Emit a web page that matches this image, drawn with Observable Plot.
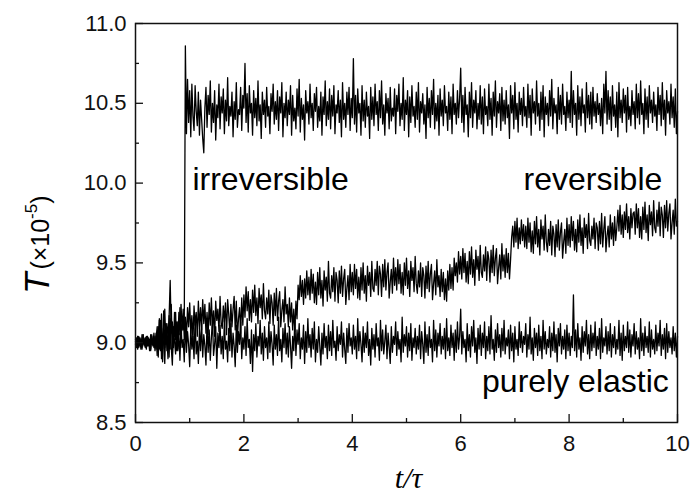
<!DOCTYPE html>
<html><head><meta charset="utf-8">
<script src="https://cdn.jsdelivr.net/npm/d3@7"></script>
<script src="https://cdn.jsdelivr.net/npm/@observablehq/plot@0.6"></script>
<style>body{margin:0;background:#fff}#chart svg{display:block}</style>
</head><body><div id="chart"></div>
<script>
// sampling interval of the read-off traces (t/τ)
const tStep = 0.02;

// purely elastic trace (T ×10^-5)
const elastic = [
9.02,8.98,9.04,8.97,9.03,9.00,8.96,9.05,8.99,9.03,8.97,9.04,8.98,9.02,8.96,9.05,8.99,9.03,8.95,9.06,
8.92,9.10,8.96,9.14,8.90,9.05,8.99,8.87,9.12,8.95,9.08,8.91,9.15,8.97,8.86,9.09,9.01,8.93,9.13,8.95,
9.06,8.89,9.11,8.97,9.02,8.88,9.14,8.94,9.07,8.99,8.85,9.10,8.96,9.04,8.90,9.16,8.93,9.01,8.87,9.09,
8.95,9.12,8.91,9.05,8.98,8.86,9.13,8.94,9.08,8.89,9.03,9.15,8.92,8.99,9.10,8.84,9.06,8.97,9.11,8.93,
9.04,8.90,9.14,8.96,9.01,8.88,9.09,8.95,9.12,8.91,9.06,8.98,8.85,9.11,8.94,9.07,8.99,9.13,8.90,9.03,
8.96,9.10,8.92,9.15,8.97,9.02,8.87,9.08,8.82,9.05,8.95,9.12,8.91,9.04,8.98,9.14,8.93,9.06,8.89,9.10,
8.97,9.03,8.90,9.13,8.94,9.07,8.99,8.86,9.11,8.96,9.05,8.92,9.16,8.95,9.02,8.88,9.09,8.97,9.12,8.93,
9.06,8.91,9.10,8.98,8.84,9.04,8.95,9.14,8.92,9.08,8.99,9.12,8.90,9.03,8.96,9.11,8.87,9.07,8.94,9.15,
8.97,9.05,8.91,9.09,8.96,9.13,8.88,9.02,8.94,9.10,8.98,8.86,9.06,8.93,9.12,8.97,9.04,8.90,9.11,8.95,
9.07,8.92,9.14,8.97,9.01,8.89,9.10,8.95,9.05,8.99,9.13,8.91,9.06,8.96,8.87,9.09,8.94,9.12,8.98,9.03,
8.93,9.11,8.96,9.04,8.90,9.15,8.95,9.07,8.99,8.88,9.10,8.94,9.06,8.97,9.13,8.92,9.02,8.86,9.09,8.96,
9.05,8.91,9.12,8.98,9.03,8.89,9.14,8.95,9.08,8.93,9.01,9.11,8.90,9.06,8.97,8.87,9.10,8.94,9.04,8.99,
9.13,8.92,9.07,8.96,9.02,8.88,9.16,8.94,9.05,8.98,9.10,8.91,9.06,8.95,9.12,8.89,9.03,8.97,9.09,8.93,
9.04,8.96,9.11,8.90,9.07,8.99,8.87,9.13,8.94,9.05,8.92,9.10,8.97,9.02,8.88,9.14,8.95,9.08,8.91,9.06,
8.98,9.12,8.93,9.04,8.96,9.09,8.90,9.15,8.95,9.03,8.92,9.11,8.97,9.06,8.89,9.08,8.94,9.13,8.96,9.04,
9.21,8.93,9.07,8.97,9.02,8.88,9.12,8.95,9.05,8.91,9.10,8.98,9.14,8.94,9.03,8.87,9.09,8.96,9.11,8.92,
9.06,8.97,9.13,8.90,9.04,8.95,9.10,8.93,9.17,8.96,9.02,8.89,9.08,8.94,9.12,8.97,9.05,8.91,9.09,8.95,
9.14,8.93,9.03,8.98,9.08,8.90,9.11,8.95,9.06,8.88,9.10,8.96,9.02,8.92,9.13,8.97,9.07,8.94,9.04,8.99,
9.12,8.91,9.05,8.96,9.16,8.93,9.03,8.89,9.09,8.97,9.06,8.92,9.11,8.95,9.04,8.90,9.14,8.96,9.07,8.93,
9.02,8.97,9.10,8.91,9.06,8.95,9.13,8.94,9.05,8.88,9.09,8.98,9.12,8.93,9.04,8.96,9.08,8.90,9.11,8.95,
9.06,8.92,9.04,8.97,9.30,8.95,9.08,8.91,9.12,8.96,9.03,8.89,9.10,8.94,9.07,8.98,9.14,8.93,9.05,8.90,
9.11,8.95,9.06,8.97,9.13,8.92,9.04,8.96,9.09,8.90,9.15,8.94,9.03,8.98,9.10,8.93,9.07,8.95,9.12,8.91,
9.05,8.97,9.10,8.93,9.02,8.96,9.14,8.92,9.06,8.89,9.11,8.95,9.04,8.97,9.13,8.94,9.08,8.91,9.05,8.98,
9.12,8.93,9.07,8.96,9.03,8.90,9.15,8.95,9.06,8.92,9.10,8.97,9.04,8.94,9.13,8.91,9.08,8.96,9.02,8.93,
9.11,8.95,9.06,8.98,9.14,8.92,9.05,8.96,9.09,8.90,9.12,8.94,9.07,8.97,9.03,8.93,9.10,8.95,9.06,8.91,
9.04];

// reversible trace
const reversible = [
8.99,9.03,8.96,9.04,8.98,9.02,8.97,9.05,8.98,9.03,8.96,9.04,8.99,9.02,8.95,9.04,8.98,9.06,8.97,9.03,
9.10,8.94,9.14,9.00,9.18,8.96,9.08,9.21,8.99,9.12,9.04,9.16,9.39,9.06,9.13,8.97,9.19,9.02,9.11,8.96,
9.19,9.05,9.24,9.08,9.21,9.02,9.16,9.03,9.22,9.10,9.25,9.06,9.17,9.01,9.23,9.11,9.19,9.04,9.26,9.09,
9.22,9.08,9.27,9.12,9.24,9.06,9.19,9.05,9.25,9.11,9.28,9.09,9.20,9.04,9.26,9.14,9.21,9.07,9.29,9.12,
9.09,9.23,9.13,9.25,9.05,9.27,9.18,9.06,9.24,9.10,9.21,9.29,9.08,9.26,9.03,9.15,9.22,9.06,9.28,9.11,
9.30,9.16,9.35,9.20,9.32,9.14,9.27,9.13,9.33,9.19,9.36,9.17,9.28,9.12,9.34,9.22,9.30,9.15,9.37,9.20,
9.15,9.28,9.18,9.33,9.12,9.30,9.25,9.11,9.31,9.17,9.34,9.14,9.26,9.32,9.10,9.20,9.27,9.13,9.35,9.18,
9.24,9.10,9.28,9.13,9.25,9.08,9.21,9.07,9.26,9.15,9.36,9.27,9.42,9.29,9.39,9.24,9.40,9.28,9.45,9.30,
9.41,9.27,9.46,9.31,9.43,9.25,9.38,9.24,9.44,9.30,9.47,9.28,9.39,9.23,9.45,9.33,9.41,9.26,9.51,9.31,
9.28,9.42,9.32,9.47,9.26,9.44,9.39,9.25,9.45,9.31,9.48,9.29,9.40,9.46,9.24,9.34,9.42,9.27,9.49,9.32,
9.44,9.30,9.49,9.34,9.46,9.28,9.41,9.27,9.47,9.33,9.50,9.31,9.42,9.26,9.48,9.36,9.44,9.29,9.51,9.34,
9.32,9.46,9.36,9.51,9.30,9.48,9.43,9.29,9.49,9.35,9.52,9.33,9.44,9.50,9.28,9.38,9.46,9.31,9.53,9.36,
9.47,9.33,9.52,9.37,9.49,9.31,9.44,9.30,9.50,9.36,9.53,9.34,9.45,9.29,9.51,9.39,9.47,9.32,9.54,9.37,
9.31,9.45,9.35,9.50,9.29,9.47,9.42,9.28,9.48,9.34,9.51,9.32,9.43,9.49,9.27,9.37,9.45,9.30,9.52,9.35,
9.42,9.29,9.46,9.32,9.44,9.27,9.40,9.26,9.45,9.33,9.49,9.34,9.47,9.33,9.53,9.42,9.50,9.38,9.57,9.43,
9.54,9.40,9.59,9.44,9.56,9.38,9.51,9.37,9.57,9.43,9.60,9.41,9.52,9.36,9.58,9.46,9.54,9.39,9.61,9.44,
9.41,9.55,9.45,9.60,9.39,9.57,9.52,9.38,9.58,9.44,9.61,9.42,9.53,9.59,9.37,9.47,9.55,9.40,9.62,9.45,
9.55,9.41,9.59,9.44,9.56,9.40,9.52,9.66,9.73,9.60,9.76,9.63,9.78,9.59,9.72,9.62,9.77,9.64,9.74,9.60,
9.73,9.59,9.78,9.63,9.75,9.57,9.70,9.56,9.76,9.62,9.79,9.60,9.71,9.55,9.77,9.65,9.73,9.58,9.80,9.63,
9.57,9.71,9.61,9.76,9.55,9.73,9.68,9.54,9.74,9.60,9.77,9.58,9.69,9.75,9.53,9.63,9.71,9.56,9.78,9.61,
9.74,9.60,9.79,9.64,9.76,9.58,9.71,9.57,9.77,9.63,9.80,9.61,9.72,9.56,9.78,9.66,9.74,9.59,9.81,9.64,
9.61,9.73,9.65,9.78,9.59,9.75,9.72,9.58,9.76,9.62,9.81,9.60,9.71,9.79,9.57,9.67,9.73,9.60,9.80,9.65,
9.75,9.61,9.79,9.64,9.72,9.83,9.70,9.86,9.68,9.80,9.66,9.82,9.71,9.87,9.69,9.79,9.65,9.84,9.72,9.81,
9.82,9.68,9.87,9.72,9.84,9.66,9.79,9.65,9.85,9.71,9.88,9.69,9.80,9.64,9.86,9.74,9.82,9.67,9.89,9.72,
9.69,9.83,9.73,9.88,9.67,9.85,9.80,9.66,9.86,9.72,9.89,9.70,9.81,9.87,9.65,9.75,9.83,9.68,9.90,9.73,
9.76];

// irreversible trace
const irreversible = [
9.01,8.97,9.04,8.98,9.03,8.96,9.05,8.99,9.02,8.97,9.04,8.98,9.03,8.95,9.05,8.99,9.02,8.97,9.04,8.96,
9.06,8.91,9.15,8.95,9.09,8.88,9.20,8.97,9.12,9.02,8.90,9.17,8.96,9.24,8.93,9.10,9.04,9.19,8.95,9.13,
9.05,9.22,9.00,9.16,9.08,9.12,10.86,10.31,10.65,10.38,10.58,10.29,10.62,10.42,10.33,10.61,10.45,10.36,10.57,10.30,
10.52,10.40,10.28,10.19,10.47,10.60,10.35,10.55,10.43,10.64,10.32,10.50,10.38,10.58,10.27,10.49,10.41,10.62,10.34,10.54,
10.44,10.59,10.31,10.52,10.39,10.66,10.36,10.48,10.42,10.57,10.29,10.51,10.40,10.63,10.35,10.46,10.43,10.60,10.33,10.55,
10.47,10.75,10.38,10.56,10.32,10.61,10.44,10.50,10.30,10.58,10.41,10.53,10.36,10.64,10.39,10.49,10.28,10.57,10.43,10.52,
10.35,10.60,10.42,10.48,10.31,10.56,10.45,10.62,10.37,10.51,10.40,10.58,10.33,10.54,10.44,10.63,10.29,10.50,10.41,10.57,
10.36,10.52,10.43,10.61,10.30,10.55,10.39,10.47,10.34,10.59,10.42,10.65,10.32,10.53,10.40,10.49,10.27,10.58,10.44,10.51,
10.37,10.62,10.41,10.50,10.33,10.56,10.45,10.60,10.35,10.48,10.39,10.57,10.30,10.54,10.43,10.64,10.36,10.51,10.40,10.59,
10.34,10.55,10.42,10.61,10.31,10.49,10.44,10.58,10.38,10.52,10.29,10.63,10.40,10.50,10.35,10.57,10.43,10.60,10.33,10.53,
10.41,10.78,10.37,10.55,10.32,10.59,10.44,10.50,10.30,10.61,10.39,10.52,10.35,10.57,10.42,10.48,10.28,10.60,10.40,10.54,
10.36,10.62,10.43,10.51,10.33,10.58,10.41,10.64,10.37,10.49,10.30,10.56,10.44,10.53,10.34,10.60,10.39,10.47,10.42,10.59,
10.31,10.55,10.45,10.62,10.36,10.50,10.40,10.66,10.33,10.52,10.43,10.58,10.29,10.54,10.38,10.61,10.42,10.48,10.35,10.57,
10.40,10.63,10.32,10.51,10.44,10.56,10.37,10.49,10.28,10.60,10.41,10.53,10.35,10.58,10.43,10.65,10.34,10.50,10.39,10.55,
10.30,10.59,10.42,10.52,10.36,10.61,10.44,10.48,10.33,10.57,10.40,10.54,10.31,10.62,10.43,10.50,10.37,10.58,10.41,10.53,
10.72,10.38,10.55,10.32,10.60,10.43,10.49,10.29,10.57,10.41,10.63,10.35,10.52,10.44,10.58,10.34,10.50,10.40,10.61,10.37,
10.54,10.31,10.59,10.43,10.48,10.36,10.62,10.40,10.53,10.30,10.57,10.42,10.64,10.35,10.51,10.44,10.56,10.33,10.60,10.39,
10.52,10.37,10.58,10.41,10.49,10.28,10.61,10.44,10.55,10.34,10.63,10.40,10.50,10.32,10.57,10.43,10.53,10.36,10.60,10.42,
10.48,10.35,10.62,10.41,10.55,10.30,10.59,10.44,10.51,10.37,10.64,10.42,10.50,10.33,10.57,10.40,10.61,10.29,10.54,10.43,
10.50,10.36,10.58,10.42,10.65,10.34,10.53,10.44,10.49,10.31,10.60,10.40,10.55,10.37,10.62,10.43,10.48,10.33,10.57,10.41,
10.52,10.38,10.70,10.35,10.58,10.43,10.50,10.30,10.61,10.40,10.54,10.36,10.59,10.44,10.49,10.32,10.63,10.41,10.55,10.37,
10.57,10.34,10.60,10.42,10.51,10.38,10.56,10.43,10.50,10.36,10.53,10.31,10.62,10.44,10.70,10.37,10.58,10.40,10.54,10.33,
10.61,10.42,10.49,10.35,10.57,10.29,10.63,10.41,10.52,10.38,10.59,10.44,10.55,10.32,10.60,10.40,10.48,10.36,10.58,10.43,
10.51,10.34,10.62,10.41,10.56,10.37,10.64,10.43,10.50,10.31,10.59,10.40,10.54,10.35,10.61,10.44,10.52,10.38,10.57,10.42,
10.49,10.33,10.60,10.43,10.55,10.36,10.63,10.40,10.52,10.30,10.58,10.44,10.51,10.37,10.62,10.41,10.54,10.35,10.59,10.31,
10.45];

const xTicks = [0, 2, 4, 6, 8, 10];
const xMinor = [1, 3, 5, 7, 9];
const yTicks = [8.5, 9.0, 9.5, 10.0, 10.5, 11.0];
const yMinor = [8.75, 9.25, 9.75, 10.25, 10.75];

const seriesNames = ["purely elastic", "reversible", "irreversible"];
const seriesValues = [elastic, reversible, irreversible];

// annotation text anchors (data coords)
const notesLeft = [{text: "irreversible", t: 1.05, v: 9.955}];
const notesRight = [
  {text: "reversible", t: 9.72, v: 9.955},
  {text: "purely elastic", t: 9.84, v: 8.69}
];

const rows = [];
seriesValues.forEach((vals, k) => vals.forEach((v, i) => rows.push({series: seriesNames[k], t: +(i * tStep).toFixed(2), v})));

const sans = "'Liberation Sans', Arial, sans-serif";
const chart = Plot.plot({
  width: 690, height: 500,
  marginLeft: 135, marginRight: 13, marginTop: 23, marginBottom: 78,
  style: {fontFamily: sans, fontSize: "22px", color: "#111", background: "#fff"},
  x: {domain: [0, 10]},
  y: {domain: [8.5, 11]},
  marks: [
    Plot.line(rows, {x: "t", y: "v", z: "series", stroke: "#000", strokeWidth: 1.3}),
    Plot.axisX({ticks: xTicks, tickSize: -8, tickPadding: 21, tickFormat: d3.format("d"), label: null, strokeWidth: 1.3, fontSize: 22}),
    Plot.axisX({ticks: xMinor, tickSize: -4, tickPadding: 21, tickFormat: () => "", label: null, strokeWidth: 1.3}),
    Plot.axisY({ticks: yTicks, tickSize: -8, tickPadding: 17, tickFormat: d3.format(".1f"), label: null, strokeWidth: 1.3, fontSize: 22}),
    Plot.axisY({ticks: yMinor, tickSize: -4, tickPadding: 17, tickFormat: () => "", label: null, strokeWidth: 1.3}),
    Plot.frame({stroke: "#111", strokeWidth: 1.5}),
    Plot.text(notesLeft, {x: "t", y: "v", text: "text", textAnchor: "start", lineAnchor: "bottom", fontSize: 32, fill: "#000"}),
    Plot.text(notesRight, {x: "t", y: "v", text: "text", textAnchor: "end", lineAnchor: "bottom", fontSize: 32, fill: "#000"}),
    Plot.text(["t/τ"], {frameAnchor: "bottom", dy: 65, dx: 2, lineAnchor: "bottom", fontSize: 30, fontStyle: "italic", fontFamily: "'Liberation Serif', 'Times New Roman', serif", fill: "#000"})
  ]
});
document.getElementById("chart").append(chart);

// y-axis title with mixed sizes
const svg = d3.select(chart);
const yt = svg.append("text")
  .attr("transform", "translate(49,294) rotate(-90)")
  .attr("text-anchor", "start")
  .attr("fill", "#000")
  .style("font-family", sans);
yt.append("tspan").attr("font-size", 35).attr("font-style", "italic").text("T");
yt.append("tspan").attr("font-size", 25).attr("dx", 3).text("(×10");
yt.append("tspan").attr("font-size", 17).attr("dy", -12).text("-5");
yt.append("tspan").attr("font-size", 25).attr("dy", 12).text(")");
</script></body></html>
